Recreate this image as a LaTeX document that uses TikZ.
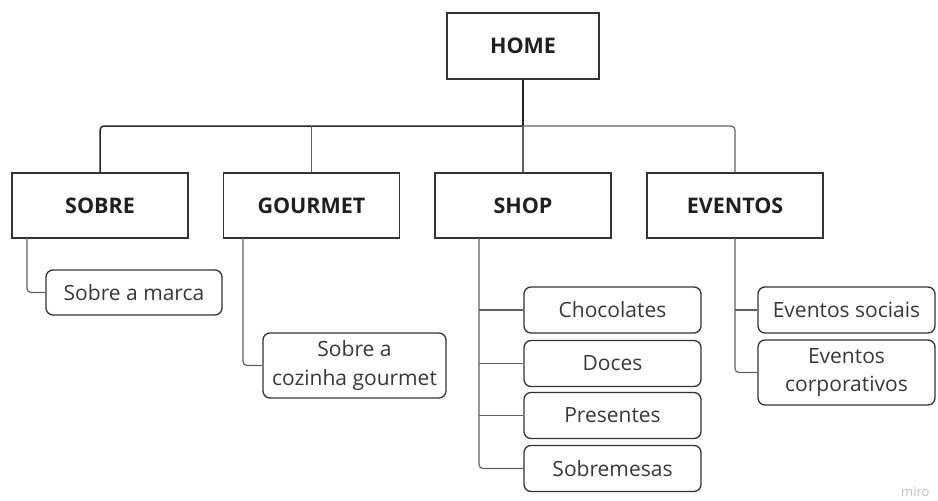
\documentclass[tikz,border=0pt]{standalone}
\usepackage{fontspec}
\setmainfont{Open Sans}
\begin{document}
\begin{tikzpicture}[x=1pt,y=-1pt,
  mainbox/.style={draw=black!80, line width=1.4pt, minimum width=176pt, minimum height=65pt,
    inner sep=0pt, font=\fontsize{21.5}{24}\selectfont\bfseries, text=black!88},
  subbox/.style={draw=black!80, line width=1.3pt, rounded corners=7pt, minimum width=177pt,
    minimum height=46pt, inner sep=0pt, align=center,
    font=\fontsize{21}{28.5}\selectfont, text=black!78},
  conn/.style={draw=black!62, line width=1.2pt, rounded corners=4pt},
  topconn/.style={draw=black!85, line width=1.5pt}]
\useasboundingbox (0,0) rectangle (938,501);
% nodes
\node[mainbox, minimum width=152pt, minimum height=66pt] (home) at (523,46) {HOME};
\node[mainbox] (sobre) at (100,205.5) {SOBRE};
\node[mainbox] (gourmet) at (311.5,205.5) {GOURMET};
\node[mainbox] (shop) at (523,205.5) {SHOP};
\node[mainbox] (eventos) at (735,205.5) {EVENTOS};
\node[subbox, minimum width=176pt, minimum height=45pt] (marca) at (134,292.5) {Sobre a marca};
\node[subbox, minimum width=183pt, minimum height=65pt] (cozinha) at (354.5,365.5) {Sobre a\\cozinha gourmet};
\node[subbox] (choc) at (612.5,310) {Chocolates};
\node[subbox] (doces) at (612.5,363.5) {Doces};
\node[subbox] (pres) at (612.5,415.5) {Presentes};
\node[subbox] (sobrem) at (612.5,468.5) {Sobremesas};
\node[subbox] (sociais) at (846.5,310) {Eventos sociais};
\node[subbox, minimum height=65pt] (corp) at (846.5,372.5) {Eventos\\corporativos};
\node[text=black!25, font=\fontsize{13}{14}\selectfont, anchor=east] (miro) at (933,492) {miro};
% coordinates
\coordinate (bar) at (523,126);
\coordinate (tsobre) at (27,238);
\coordinate (tgourmet) at (243,238);
\coordinate (tshop) at (479,238);
\coordinate (tev) at (735,238);
% top connectors
\draw[topconn] (home.south) -- (bar);
\draw[topconn, rounded corners=4pt] (sobre.north) -- (sobre.north |- bar) -- (bar);
\draw[conn] (bar) -- (eventos.north |- bar) -- (eventos.north);
\draw[conn] (gourmet.north) -- (gourmet.north |- bar);
\draw[conn] (shop.north) -- (bar);
% sub connectors
\draw[conn] (tsobre) |- (marca.west);
\draw[conn] (tgourmet) |- (cozinha.west);
\draw[conn] (tshop) |- (sobrem.west);
\draw[conn] (tshop |- choc.west) -- (choc.west);
\draw[conn] (tshop |- doces.west) -- (doces.west);
\draw[conn] (tshop |- pres.west) -- (pres.west);
\draw[conn] (tev) |- (corp.west);
\draw[conn] (tev |- sociais.west) -- (sociais.west);
\end{tikzpicture}
\end{document}
